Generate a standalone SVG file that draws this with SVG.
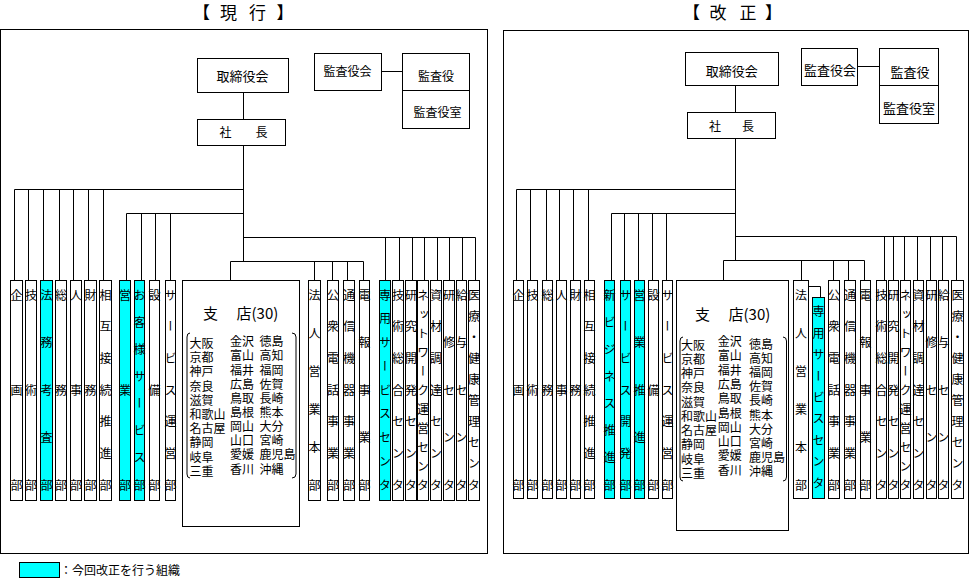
<svg xmlns="http://www.w3.org/2000/svg" width="969" height="582" viewBox="0 0 969 582">
<style>
text{font-family:"Noto Sans CJK JP","Noto Sans",sans-serif;fill:#000}
.b{fill:#fff;stroke:#000;stroke-width:1}
.c{fill:#0ff;stroke:#000;stroke-width:1}
.f{fill:none;stroke:#000;stroke-width:1}
.k{fill:none;stroke:#000;stroke-width:1}
.v{writing-mode:vertical-rl;text-orientation:upright;font-size:12px}
.s3{letter-spacing:83px}.s5{letter-spacing:35.5px}.s6{letter-spacing:26px}.s7{letter-spacing:19.67px}
.s8{letter-spacing:15.14px}.s9{letter-spacing:11.75px}.s10{letter-spacing:9.11px}.s11{letter-spacing:7px}
.m{font-size:13px;text-anchor:middle}
.m12{font-size:12px;text-anchor:middle}
.city{font-size:12px}
.ttl{font-size:17px}
.br{font-size:15px}
</style>

<!-- ===== LEFT PANEL (現行) ===== -->
<rect id="frame-l" class="f" x="0.5" y="29.5" width="487" height="524"/>
<text id="title-l" class="ttl" y="18.5"><tspan x="193">【</tspan><tspan x="220">現</tspan><tspan x="249">行</tspan><tspan x="276.5">】</tspan></text>

<g id="connectors-l" class="k">
<path d="M243.5,92.5V119.5"/>
<path d="M381.5,71.5H402.5"/>
<path d="M243.5,145.5V261.5"/>
<path d="M14.5,280V189.5H243.5M28.5,189.5V280M43.5,189.5V280M59.5,189.5V280M73.5,189.5V280M88.5,189.5V280M103.5,189.5V280"/>
<path d="M126.5,280V213.5H243.5M141.5,213.5V280M155.5,213.5V280M170.5,213.5V280"/>
<path d="M243.5,237.5H475.5V280M385.5,237.5V280M399.5,237.5V280M412.5,237.5V280M424.5,237.5V280M437.5,237.5V280M449.5,237.5V280M462.5,237.5V280"/>
<path d="M230.5,280V261.5H363.5V280M314.5,261.5V280M332.5,261.5V280M347.5,261.5V280"/>
</g>

<g id="l-torishimariyakukai"><rect class="b" x="197.5" y="58.5" width="91" height="34"/><text class="m" x="242.5" y="81">取締役会</text></g>
<g id="l-kansayakukai"><rect class="b" x="314.5" y="53.5" width="67" height="37"/><text class="m12" x="347.5" y="76">監査役会</text></g>
<g id="l-kansayaku"><rect class="b" x="402.5" y="53.5" width="67" height="37"/><text class="m12" x="436" y="80.5">監査役</text></g>
<g id="l-kansayakushitsu"><rect class="b" x="402.5" y="90.5" width="67" height="38"/><text class="m12" x="437.5" y="117">監査役室</text></g>
<g id="l-shacho"><rect class="b" x="197.5" y="119.5" width="88" height="26"/><text class="m12" x="243.5" y="137">社　　長</text></g>

<g id="l-d01"><rect class="b" x="10.5" y="280.5" width="12" height="220"/><text class="v s3" x="16.5" y="289">企画部</text></g>
<g id="l-d02"><rect class="b" x="25.5" y="280.5" width="11" height="220"/><text class="v s3" x="31" y="289">技術部</text></g>
<g id="l-d03"><rect class="c" x="40.5" y="280.5" width="12" height="220"/><text class="v s5" x="46.5" y="289">法務考査部</text></g>
<g id="l-d04"><rect class="b" x="55.5" y="280.5" width="11" height="220"/><text class="v s3" x="61" y="289">総務部</text></g>
<g id="l-d05"><rect class="b" x="70.5" y="280.5" width="11" height="220"/><text class="v s3" x="76" y="289">人事部</text></g>
<g id="l-d06"><rect class="b" x="84.5" y="280.5" width="12" height="220"/><text class="v s3" x="90.5" y="289">財務部</text></g>
<g id="l-d07"><rect class="b" x="99.5" y="280.5" width="12" height="220"/><text class="v s7" x="105.5" y="289">相互接続推進部</text></g>
<g id="l-d08"><rect class="c" x="119.5" y="280.5" width="11" height="220"/><text class="v s3" x="125" y="289">営業部</text></g>
<g id="l-d09"><rect class="c" x="134.5" y="280.5" width="10" height="220"/><text class="v s8" x="139.5" y="289">お客様サービス部</text></g>
<g id="l-d10"><rect class="b" x="149.5" y="280.5" width="10" height="220"/><text class="v s3" x="154.5" y="289">設備部</text></g>
<g id="l-d11"><rect class="b" x="165.5" y="280.5" width="10" height="220"/><text class="v s7" x="170.5" y="289">サービス運営部</text></g>

<g id="l-shiten">
<rect class="b" x="182.5" y="280.5" width="117" height="246"/>
<text class="br" x="203" y="319">支　<tspan x="236.5">店(30)</tspan></text>
<path class="k" d="M190,333Q187,333 187,337V474Q187,478 190,478"/>
<path class="k" d="M292,333Q296,333 296,337V474Q296,478 292,478"/>
<text class="city" x="189.5" y="348"><tspan x="189.5">大阪</tspan><tspan x="189.5" dy="14.2">京都</tspan><tspan x="189.5" dy="14.2">神戸</tspan><tspan x="189.5" dy="14.2">奈良</tspan><tspan x="189.5" dy="14.2">滋賀</tspan><tspan x="189.5" dy="14.2">和歌山</tspan><tspan x="189.5" dy="14.2">名古屋</tspan><tspan x="189.5" dy="14.2">静岡</tspan><tspan x="189.5" dy="14.2">岐阜</tspan><tspan x="189.5" dy="14.2">三重</tspan></text>
<text class="city" x="230" y="346.2"><tspan x="230">金沢</tspan><tspan x="230" dy="14.15">富山</tspan><tspan x="230" dy="14.15">福井</tspan><tspan x="230" dy="14.15">広島</tspan><tspan x="230" dy="14.15">鳥取</tspan><tspan x="230" dy="14.15">島根</tspan><tspan x="230" dy="14.15">岡山</tspan><tspan x="230" dy="14.15">山口</tspan><tspan x="230" dy="14.15">愛媛</tspan><tspan x="230" dy="14.15">香川</tspan></text>
<text class="city" x="259.5" y="346.2"><tspan x="259.5">徳島</tspan><tspan x="259.5" dy="14.15">高知</tspan><tspan x="259.5" dy="14.15">福岡</tspan><tspan x="259.5" dy="14.15">佐賀</tspan><tspan x="259.5" dy="14.15">長崎</tspan><tspan x="259.5" dy="14.15">熊本</tspan><tspan x="259.5" dy="14.15">大分</tspan><tspan x="259.5" dy="14.15">宮崎</tspan><tspan x="259.5" dy="14.15">鹿児島</tspan><tspan x="259.5" dy="14.15">沖縄</tspan></text>
</g>

<g id="l-d12"><rect class="b" x="308.5" y="280.5" width="12" height="220"/><text class="v s6" x="314.5" y="289">法人営業本部</text></g>
<g id="l-d13"><rect class="b" x="327.5" y="280.5" width="11" height="220"/><text class="v s7" x="333" y="289">公衆電話事業部</text></g>
<g id="l-d14"><rect class="b" x="343.5" y="280.5" width="11" height="220"/><text class="v s7" x="349" y="289">通信機器事業部</text></g>
<g id="l-d15"><rect class="b" x="359.5" y="280.5" width="10" height="220"/><text class="v s5" x="364.5" y="289">電報事業部</text></g>
<g id="l-d16"><rect class="c" x="379.5" y="280.5" width="11" height="220"/><text class="v s9" x="385" y="289">専用サービスセンタ</text></g>
<g id="l-d17"><rect class="b" x="392.5" y="280.5" width="11" height="220"/><text class="v s7" x="398" y="289">技術総合センタ</text></g>
<g id="l-d18"><rect class="b" x="405.5" y="280.5" width="11" height="220"/><text class="v s7" x="411" y="289">研究開発センタ</text></g>
<g id="l-d19"><rect class="b" x="417.5" y="280.5" width="11" height="220"/><text class="v s11" x="423" y="289">ネットワーク運営センタ</text></g>
<g id="l-d20"><rect class="b" x="430.5" y="280.5" width="11" height="220"/><text class="v s7" x="436" y="289">資材調達センタ</text></g>
<g id="l-d21"><rect class="b" x="443.5" y="280.5" width="11" height="220"/><text class="v s5" x="449" y="289">研修センタ</text></g>
<g id="l-d22"><rect class="b" x="456.5" y="280.5" width="10" height="220"/><text class="v s5" x="461.5" y="289">給与センタ</text></g>
<g id="l-d23"><rect class="b" x="468.5" y="280.5" width="11" height="220"/><text class="v s10" x="474" y="289">医療・健康管理センタ</text></g>

<!-- ===== RIGHT PANEL (改正) ===== -->
<rect id="frame-r" class="f" x="503.5" y="30.5" width="465" height="523"/>
<text id="title-r" class="ttl" y="18.5"><tspan x="683">【</tspan><tspan x="709.5">改</tspan><tspan x="739.5">正</tspan><tspan x="765">】</tspan></text>

<g id="connectors-r" class="k">
<path d="M735.5,85.5V112.5"/>
<path d="M857.5,66.5H879.5"/>
<path d="M735.5,138.5V260.5"/>
<path d="M516.5,280V189.5H735.5M530.5,189.5V280M546.5,189.5V280M559.5,189.5V280M573.5,189.5V280M588.5,189.5V280"/>
<path d="M611.5,280V213.5H735.5M624.5,213.5V280M638.5,213.5V280M652.5,213.5V280M666.5,213.5V280"/>
<path d="M735.5,236.5H956.5V280M884.5,236.5V280M893.5,236.5V280M904.5,236.5V280M917.5,236.5V280M930.5,236.5V280M942.5,236.5V280"/>
<path d="M723.5,280V260.5H864.5V280M801.5,260.5V280M833.5,260.5V280M848.5,260.5V280"/>
<path d="M808.5,286.5H820.5V297.5"/>
</g>

<g id="r-torishimariyakukai"><rect class="b" x="685.5" y="52.5" width="93" height="33"/><text class="m" x="731.7" y="76">取締役会</text></g>
<g id="r-kansayakukai"><rect class="b" x="801.5" y="48.5" width="56" height="37"/><text class="m" x="830" y="74.5">監査役会</text></g>
<g id="r-kansayaku"><rect class="b" x="879.5" y="48.5" width="59" height="37"/><text class="m" x="910" y="76.8">監査役</text></g>
<g id="r-kansayakushitsu"><rect class="b" x="879.5" y="85.5" width="59" height="38"/><text class="m" x="909" y="112.8">監査役室</text></g>
<g id="r-shacho"><rect class="b" x="687.5" y="112.5" width="88" height="26"/><text class="m12" x="731.5" y="130.5" textLength="45" lengthAdjust="spacing">社　　長</text></g>

<g id="r-d01"><rect class="b" x="513.5" y="280.5" width="10" height="218"/><text class="v s3" x="518.5" y="289">企画部</text></g>
<g id="r-d02"><rect class="b" x="527.5" y="280.5" width="10" height="218"/><text class="v s3" x="532.5" y="289">技術部</text></g>
<g id="r-d03"><rect class="b" x="542.5" y="280.5" width="10" height="218"/><text class="v s3" x="547.5" y="289">総務部</text></g>
<g id="r-d04"><rect class="b" x="556.5" y="280.5" width="10" height="218"/><text class="v s3" x="561.5" y="289">人事部</text></g>
<g id="r-d05"><rect class="b" x="570.5" y="280.5" width="10" height="218"/><text class="v s3" x="575.5" y="289">財務部</text></g>
<g id="r-d06"><rect class="b" x="584.5" y="280.5" width="10" height="218"/><text class="v s7" x="589.5" y="289">相互接続推進部</text></g>
<g id="r-d07"><rect class="c" x="604.5" y="280.5" width="10" height="218"/><text class="v s8" x="609.5" y="289">新ビジネス推進部</text></g>
<g id="r-d08"><rect class="c" x="620.5" y="280.5" width="10" height="218"/><text class="v s7" x="625.5" y="289">サービス開発部</text></g>
<g id="r-d09"><rect class="c" x="634.5" y="280.5" width="10" height="218"/><text class="v s5" x="639.5" y="289">営業推進部</text></g>
<g id="r-d10"><rect class="b" x="648.5" y="280.5" width="10" height="218"/><text class="v s3" x="653.5" y="289">設備部</text></g>
<g id="r-d11"><rect class="b" x="662.5" y="280.5" width="10" height="218"/><text class="v s7" x="667.5" y="289">サービス運営部</text></g>

<g id="r-shiten">
<rect class="b" x="676.5" y="280.5" width="112" height="250"/>
<text class="br" x="695" y="319.7">支　<tspan x="728.5">店(30)</tspan></text>
<path class="k" d="M683,337Q680,337 680,341V477Q680,481 683,481"/>
<path class="k" d="M783,337Q786.5,337 786.5,341V477Q786.5,481 783,481"/>
<text class="city" x="681" y="349.5"><tspan x="681">大阪</tspan><tspan x="681" dy="14.26">京都</tspan><tspan x="681" dy="14.26">神戸</tspan><tspan x="681" dy="14.26">奈良</tspan><tspan x="681" dy="14.26">滋賀</tspan><tspan x="681" dy="14.26">和歌山</tspan><tspan x="681" dy="14.26">名古屋</tspan><tspan x="681" dy="14.26">静岡</tspan><tspan x="681" dy="14.26">岐阜</tspan><tspan x="681" dy="14.26">三重</tspan></text>
<text class="city" x="717.7" y="346.2"><tspan x="717.7">金沢</tspan><tspan x="717.7" dy="14.26">富山</tspan><tspan x="717.7" dy="14.26">福井</tspan><tspan x="717.7" dy="14.26">広島</tspan><tspan x="717.7" dy="14.26">鳥取</tspan><tspan x="717.7" dy="14.26">島根</tspan><tspan x="717.7" dy="14.26">岡山</tspan><tspan x="717.7" dy="14.26">山口</tspan><tspan x="717.7" dy="14.26">愛媛</tspan><tspan x="717.7" dy="14.26">香川</tspan></text>
<text class="city" x="749" y="348.5"><tspan x="749">徳島</tspan><tspan x="749" dy="14.2">高知</tspan><tspan x="749" dy="14.2">福岡</tspan><tspan x="749" dy="14.2">佐賀</tspan><tspan x="749" dy="14.2">長崎</tspan><tspan x="749" dy="14.2">熊本</tspan><tspan x="749" dy="14.2">大分</tspan><tspan x="749" dy="14.2">宮崎</tspan><tspan x="749" dy="14.2">鹿児島</tspan><tspan x="749" dy="14.2">沖縄</tspan></text>
</g>

<g id="r-d12"><rect class="b" x="793.5" y="280.5" width="15" height="218"/><text class="v s6" x="801" y="289">法人営業本部</text></g>
<g id="r-d13"><rect class="c" x="812.5" y="297.5" width="12" height="201"/><text class="v" style="letter-spacing:9.45px" x="818.5" y="305.7">専用サービスセンタ</text></g>
<g id="r-d14"><rect class="b" x="828.5" y="280.5" width="11" height="218"/><text class="v s7" x="834" y="289">公衆電話事業部</text></g>
<g id="r-d15"><rect class="b" x="844.5" y="280.5" width="11" height="218"/><text class="v s7" x="850" y="289">通信機器事業部</text></g>
<g id="r-d16"><rect class="b" x="860.5" y="280.5" width="10" height="218"/><text class="v s5" x="865.5" y="289">電報事業部</text></g>
<g id="r-d17"><rect class="b" x="876.5" y="280.5" width="10" height="218"/><text class="v s7" x="881.5" y="289">技術総合センタ</text></g>
<g id="r-d18"><rect class="b" x="888.5" y="280.5" width="10" height="218"/><text class="v s7" x="893.5" y="289">研究開発センタ</text></g>
<g id="r-d19"><rect class="b" x="900.5" y="280.5" width="10" height="218"/><text class="v s11" x="905.5" y="289">ネットワーク運営センタ</text></g>
<g id="r-d20"><rect class="b" x="913.5" y="280.5" width="10" height="218"/><text class="v s7" x="918.5" y="289">資材調達センタ</text></g>
<g id="r-d21"><rect class="b" x="926.5" y="280.5" width="10" height="218"/><text class="v s5" x="931.5" y="289">研修センタ</text></g>
<g id="r-d22"><rect class="b" x="938.5" y="280.5" width="10" height="218"/><text class="v s5" x="943.5" y="289">給与センタ</text></g>
<g id="r-d23"><rect class="b" x="951.5" y="280.5" width="12" height="218"/><text class="v s10" x="957.5" y="289">医療・健康管理センタ</text></g>

<!-- legend -->
<g id="legend">
<rect class="c" x="19.5" y="562.5" width="40" height="15"/>
<text class="city" x="60" y="574.5">：今回改正を行う組織</text>
</g>
</svg>
